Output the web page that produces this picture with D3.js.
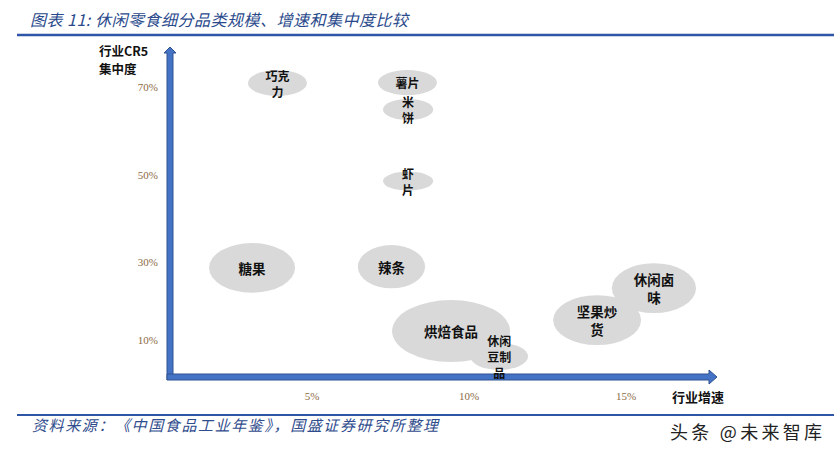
<!DOCTYPE html>
<html>
<head>
<meta charset="utf-8">
<script src="https://cdn.jsdelivr.net/npm/d3@7"></script>
<style>
  html, body { margin: 0; padding: 0; background: #fff; }
  svg { display: block; }
</style>
</head>
<body>
<svg id="chart" width="834" height="454"></svg>
<script>
// ---- data ----
const categories = ["巧克力", "薯片", "米饼", "虾片", "糖果", "辣条", "烘焙食品", "休闲豆制品", "坚果炒货", "休闲卤味"];
const labelLines = [["巧克", "力"], ["薯片"], ["米", "饼"], ["虾", "片"], ["糖果"], ["辣条"], ["烘焙食品"], ["休闲", "豆制", "品"], ["坚果炒", "货"], ["休闲卤", "味"]];
const growth = [3.90, 8.04, 8.06, 8.06, 3.09, 7.53, 9.43, 10.96, 14.08, 15.89];      // 行业增速 (%)
const cr5 = [70.9, 71.0, 64.9, 48.6, 28.5, 28.8, 12.3, 5.8, 15.1, 23.3];             // 行业CR5 (%)
const spreadGrowth = [0.94, 0.94, 0.80, 0.80, 1.37, 1.07, 1.88, 0.92, 1.40, 1.34];   // bubble half-width (growth pts)
const spreadCR5 = [2.95, 2.85, 2.40, 2.17, 6.1, 5.3, 7.95, 3.46, 6.4, 6.4];          // bubble half-height (CR5 pts)
const xTicks = [5, 10, 15];
const yTicks = [10, 30, 50, 70];
const titleText = "图表 11:  休闲零食细分品类规模、增速和集中度比较";
const sourceText = "资料来源：《中国食品工业年鉴》，国盛证券研究所整理";
const watermark = "头条 @未来智库";

// ---- layout ----
const svg = d3.select("#chart");
const axisLeft = 167, axisBottom = 380, axisTop = 47, axisRight = 717;
const x = d3.scaleLinear().domain([5, 15]).range([312, 626]);
const y = d3.scaleLinear().domain([10, 30, 50, 70]).range([340, 262, 175, 87]);

const blue = "#4472C4", blueDark = "#2F528F";
const cjk = "'Noto Sans CJK SC', 'Noto Sans', sans-serif";

// title
svg.append("text").attr("x", 30).attr("y", 26)
  .attr("font-family", cjk).attr("font-style", "italic")
  .attr("font-size", 16).attr("fill", "#2A4A8C")
  .attr("textLength", 378).attr("lengthAdjust", "spacing")
  .text(titleText);
svg.append("line").attr("x1", 17).attr("x2", 834).attr("y1", 35).attr("y2", 35)
  .attr("stroke", "#2F56A6").attr("stroke-width", 2.5);

// axes (arrows)
const axes = svg.append("g");
axes.append("path")
  .attr("d", `M${axisLeft},${axisBottom} L${axisLeft},${axisTop + 6} L${axisLeft - 3},${axisTop + 6} L${axisLeft + 3},${axisTop} L${axisLeft + 9},${axisTop + 6} L${axisLeft + 6},${axisTop + 6} L${axisLeft + 6},${axisBottom - 6} Z`)
  .attr("fill", blue).attr("stroke", blueDark).attr("stroke-width", 1);
axes.append("path")
  .attr("d", `M${axisLeft},${axisBottom} L${axisLeft},${axisBottom - 6} L${axisRight - 8},${axisBottom - 6} L${axisRight - 8},${axisBottom - 10} L${axisRight},${axisBottom - 3} L${axisRight - 8},${axisBottom + 4} L${axisRight - 8},${axisBottom} Z`)
  .attr("fill", blue).attr("stroke", blueDark).attr("stroke-width", 1);

// tick labels
svg.append("g").selectAll("text").data(yTicks).join("text")
  .attr("x", 158).attr("y", d => y(d)).attr("dy", "0.35em")
  .attr("text-anchor", "end")
  .attr("font-family", "'Liberation Serif', serif").attr("font-size", 11)
  .attr("fill", "#8C6A45")
  .text(d => d + "%");
svg.append("g").selectAll("text").data(xTicks).join("text")
  .attr("x", d => x(d)).attr("y", 396).attr("dy", "0.35em")
  .attr("text-anchor", "middle")
  .attr("font-family", "'Liberation Serif', serif").attr("font-size", 11)
  .attr("fill", "#8C6A45")
  .text(d => d + "%");

// axis titles
const yTitleLines = ["行业CR5", "集中度"];
svg.append("g").selectAll("text").data(yTitleLines).join("text")
  .attr("x", 99).attr("y", (d, i) => 55.5 + i * 18)
  .attr("font-family", cjk).attr("font-weight", 700)
  .attr("font-size", 12.5).attr("fill", "#111")
  .text(d => d);
svg.append("text").attr("x", 672).attr("y", 402)
  .attr("font-family", cjk).attr("font-weight", 700)
  .attr("font-size", 13).attr("fill", "#111").text("行业增速");

// bubbles
const data = categories.map((c, i) => ({
  name: c, lines: labelLines[i], gx: growth[i], cy: cr5[i],
  sx: spreadGrowth[i], sy: spreadCR5[i]
}));
const bubbles = svg.append("g");
bubbles.selectAll("ellipse").data(data).join("ellipse")
  .attr("cx", d => x(d.gx))
  .attr("cy", d => y(d.cy))
  .attr("rx", d => (x(d.gx + d.sx) - x(d.gx - d.sx)) / 2)
  .attr("ry", d => (y(d.cy - d.sy) - y(d.cy + d.sy)) / 2)
  .attr("fill", "#D9D9D9");

// labels
const labels = svg.append("g");
data.forEach(d => {
  const ry = (y(d.cy - d.sy) - y(d.cy + d.sy)) / 2;
  const fs = ry >= 20 ? 13.5 : 12;
  const lh = fs * 1.35;
  const n = d.lines.length;
  const cx = x(d.gx), cy = y(d.cy) + 1.5;
  d.lines.forEach((ln, k) => {
    labels.append("text")
      .attr("text-anchor", "middle")
      .attr("font-family", cjk).attr("font-weight", 700)
      .attr("font-size", fs).attr("fill", "#111")
      .attr("x", cx)
      .attr("y", cy + (k - (n - 1) / 2) * lh)
      .attr("dy", "0.35em").text(ln);
  });
});

// footer
svg.append("line").attr("x1", 17).attr("x2", 834).attr("y1", 415).attr("y2", 415)
  .attr("stroke", "#2F56A6").attr("stroke-width", 2);
svg.append("text").attr("x", 32).attr("y", 431)
  .attr("font-family", cjk).attr("font-style", "italic")
  .attr("font-size", 15).attr("fill", "#2F4C8C")
  .attr("textLength", 406).attr("lengthAdjust", "spacing")
  .text(sourceText);
svg.append("text").attr("x", 822).attr("y", 439)
  .attr("text-anchor", "end")
  .attr("font-family", cjk).attr("font-size", 18).attr("fill", "#222")
  .attr("textLength", 152).attr("lengthAdjust", "spacing")
  .text(watermark);
</script>
</body>
</html>
